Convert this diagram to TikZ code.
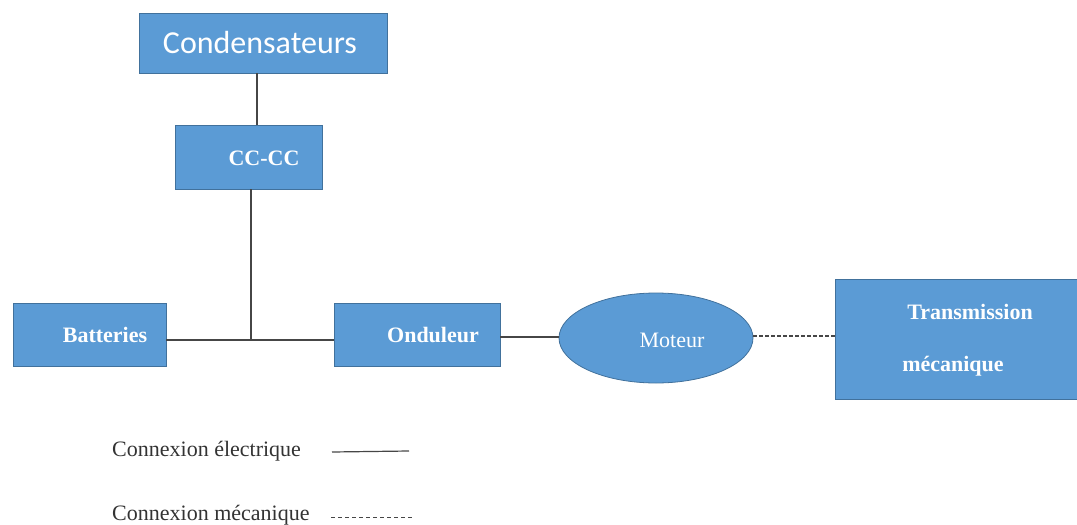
\documentclass[tikz,border=0pt]{standalone}
\usepackage{fontspec}
\setmainfont{Liberation Serif}
\newfontfamily\calib{Carlito}
\usetikzlibrary{shapes.geometric}
\definecolor{boxblue}{RGB}{91,155,213}
\definecolor{boxedge}{RGB}{65,113,156}
\definecolor{wire}{RGB}{70,70,70}
\begin{document}
\begin{tikzpicture}[x=1pt,y=-1pt,
  blockbox/.style={draw=boxedge,fill=boxblue,line width=0.8pt,inner sep=0pt},
  lbl/.style={text=white,font=\bfseries\fontsize{22}{26}\selectfont,inner sep=0pt},
  elec/.style={draw=wire,line width=1.2pt},
  mech/.style={draw=wire,line width=1.2pt,dash pattern=on 3.5pt off 2.5pt},
  legend/.style={text=black!80,font=\fontsize{22}{26}\selectfont,anchor=west,inner sep=0pt}]
\useasboundingbox (0,0) rectangle (1077,525);
% blocks
\node[blockbox,minimum width=248pt,minimum height=60pt] (cond) at (263,43) {};
\node[text=white,font=\calib\fontsize{32}{38}\selectfont,inner sep=0pt] at (260,43) {Condensateurs};
\node[blockbox,minimum width=147pt,minimum height=64pt] (cc) at (248.5,157) {};
\node[lbl] at (264,158) {CC-CC};
\node[blockbox,minimum width=153pt,minimum height=63pt] (bat) at (89.5,334.5) {};
\node[lbl] at (105,335) {Batteries};
\node[blockbox,minimum width=166pt,minimum height=63pt] (ond) at (417,334.5) {};
\node[lbl] at (433,335) {Onduleur};
\node[ellipse,blockbox,minimum width=194pt,minimum height=90pt] (mot) at (656,338) {};
\node[text=white,font=\fontsize{22}{26}\selectfont,inner sep=0pt] at (672,340) {Moteur};
\node[blockbox,minimum width=242pt,minimum height=120pt] (trans) at (956,339) {};
\node[lbl] at (970,312) {Transmission};
\node[lbl] at (953,366) {mécanique};
% electrical wiring
\coordinate (j) at (251,340);
\draw[elec] (cond.south -| 257,0) -- (cc.north -| 257,0);
\draw[elec] (cc.south -| j) -- (j);
\draw[elec] (bat.east |- j) -- (ond.west |- j);
\draw[elec] (ond.east |- 0,337) -- (mot.west |- 0,337);
% mechanical link
\draw[mech] (mot.east |- 0,336) -- (trans.west |- 0,336);
% legend
\node[legend] (le) at (112,451) {Connexion électrique};
\node[legend] (lm) at (112,515) {Connexion mécanique};
\coordinate (le1) at (332,452);
\coordinate (le2) at (409,451);
\coordinate (lm1) at (331,517);
\coordinate (lm2) at (412,517);
\draw[elec] (le1) -- (le2);
\draw[mech,line width=1pt,dash pattern=on 4pt off 3pt] (lm1) -- (lm2);
\end{tikzpicture}
\end{document}
